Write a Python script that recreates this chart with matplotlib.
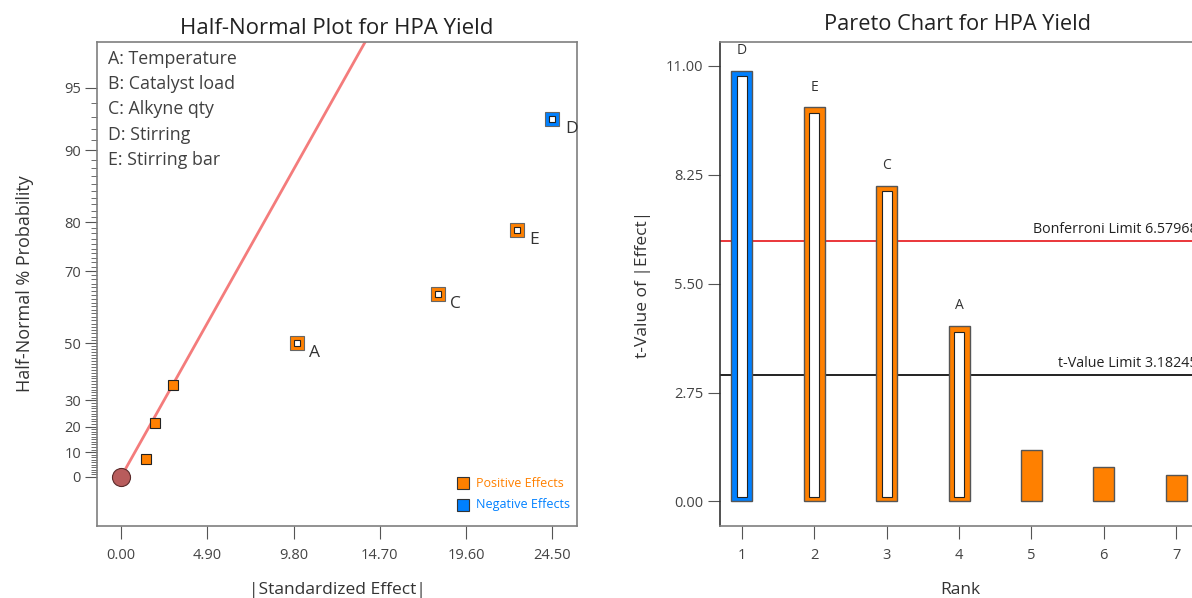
#!/usr/bin/env python3
"""Half-normal plot and Pareto chart of effects for HPA yield (two panels)."""
from statistics import NormalDist

import numpy as np
import matplotlib
matplotlib.use("Agg")
import matplotlib.pyplot as plt
from matplotlib.ticker import FixedLocator, FixedFormatter

plt.rcParams["font.family"] = ["Open Sans", "DejaVu Sans"]

# ---- data -----------------------------------------------------------------
FACTOR_NAMES = ["A: Temperature", "B: Catalyst load", "C: Alkyne qty",
                "D: Stirring", "E: Stirring bar"]

# half-normal plot: |standardized effect| vs half-normal % probability
HN_LABELS = ["", "", "", "A", "C", "E", "D"]
HN_EFFECT = [1.44, 1.93, 2.95, 9.98, 18.0, 22.5, 24.5]
HN_PROB = [7.14, 21.43, 35.71, 50.0, 64.29, 78.57, 92.86]
HN_SIGN = ["+", "+", "+", "+", "+", "+", "-"]
HN_SELECTED = [False, False, False, True, True, True, True]
FIT_X = [0.0, 14.5]
FIT_P = [0.0, 97.8]
HN_YTICKS = [0, 10, 20, 30, 50, 70, 80, 90, 95]
HN_XTICKS = [0.00, 4.90, 9.80, 14.70, 19.60, 24.50]

# pareto chart: t-value of |effect| by rank
PARETO_RANK = [1, 2, 3, 4, 5, 6, 7]
PARETO_T = [10.87, 9.95, 7.97, 4.43, 1.31, 0.87, 0.66]
PARETO_LABELS = ["D", "E", "C", "A", "", "", ""]
PARETO_SIGN = ["-", "+", "+", "+", "+", "+", "+"]
PARETO_SELECTED = [True, True, True, True, False, False, False]
BONFERRONI = 6.57968
T_LIMIT = 3.18245
PARETO_YTICKS = [0.00, 2.75, 5.50, 8.25, 11.00]

# ---- style ----------------------------------------------------------------
ORANGE = "#ff8000"
BLUE = "#0080ff"
TXT = "#333333"
TICK_TXT = "#444444"
FRAME = "#7f7f7f"
SIGN_COLOR = {"+": ORANGE, "-": BLUE}


def hn_forward(p):
    p = np.clip(np.asarray(p, dtype=float), -99.9999, 99.9999)
    nd = NormalDist()
    return np.vectorize(lambda v: nd.inv_cdf(0.5 + v / 200.0))(p)


def hn_inverse(z):
    z = np.asarray(z, dtype=float)
    nd = NormalDist()
    return np.vectorize(lambda v: 200.0 * (nd.cdf(v) - 0.5))(z)


fig = plt.figure(figsize=(11.92, 5.98), dpi=100)

# ---- half-normal plot -------------------------------------------------------
ax = fig.add_axes([0.0814, 0.1204, 0.4027, 0.8094])
ax.set_yscale("function", functions=(hn_forward, hn_inverse))
ax.set_xlim(-1.36, 25.9)
ax.set_ylim(-19.5, 97.15)

ax.plot(FIT_X, FIT_P, color="#f47c7c", lw=2, zorder=2, solid_capstyle="butt")
ax.plot([0], [0], "o", ms=13, mfc="#b85c5c", mec="#5a2a2a", mew=0.8, zorder=5)

for lab, x, p, sgn, sel in zip(HN_LABELS, HN_EFFECT, HN_PROB, HN_SIGN, HN_SELECTED):
    col = SIGN_COLOR[sgn]
    if sel:
        ax.plot([x], [p], "s", ms=9.5, mfc=col, mec="#666666", mew=0.8, zorder=4)
        ax.plot([x], [p], "s", ms=4.5, mfc="white", mec="#222222", mew=0.8, zorder=5)
        ax.annotate(lab, (x, p), textcoords="offset points", xytext=(9, -7),
                    ha="left", va="center", fontsize=12.5, color=TXT)
    else:
        ax.plot([x], [p], "s", ms=7, mfc=col, mec="#222222", mew=0.8, zorder=4)

ax.text(0.023, 0.984, "\n".join(FACTOR_NAMES), transform=ax.transAxes,
        ha="left", va="top", fontsize=12.8, color="#404040", linespacing=1.52)

# effect sign legend
for i, (name, col) in enumerate([("Positive Effects", ORANGE), ("Negative Effects", BLUE)]):
    y = 0.088 - i * 0.044
    ax.plot([0.762], [y], "s", ms=8, mfc=col, mec="#333333", mew=0.8,
            transform=ax.transAxes, clip_on=False)
    ax.text(0.79, y, name, transform=ax.transAxes, ha="left", va="center",
            fontsize=9, color=col)

ax.yaxis.set_major_locator(FixedLocator(HN_YTICKS))
ax.yaxis.set_major_formatter(FixedFormatter([str(v) for v in HN_YTICKS]))
ax.yaxis.set_minor_locator(FixedLocator([v for v in range(1, 95) if v not in HN_YTICKS]))
ax.set_xticks(HN_XTICKS)
ax.set_xticklabels([f"{v:.2f}" for v in HN_XTICKS])
ax.tick_params(axis="y", which="major", length=8.5, width=0.8, color="#555555",
               labelsize=10.5, labelcolor=TICK_TXT, pad=3)
ax.tick_params(axis="y", which="minor", length=4.5, width=0.6, color="#555555")
ax.tick_params(axis="x", which="major", length=9, width=0.8, color="#555555",
               labelsize=10.5, labelcolor=TICK_TXT, pad=6.5)
ax.tick_params(axis="x", which="minor", length=0)
for sp in ax.spines.values():
    sp.set_color(FRAME)
    sp.set_linewidth(1.2)
ax.set_xlabel("|Standardized Effect|", fontsize=12.5, color=TXT, labelpad=14)
ax.set_ylabel("Half-Normal % Probability", fontsize=13, color=TXT, labelpad=22)
ax.set_title("Half-Normal Plot for HPA Yield", fontsize=16, color="#222222", pad=6)

# ---- pareto chart -----------------------------------------------------------
bx = fig.add_axes([0.604, 0.1204, 0.4027, 0.8094])
bx.set_xlim(0.696, 7.33)
bx.set_ylim(-0.62, 11.6)

BAR_W = 0.29
INNER_W = 0.14
INNER_TOP = 0.14
INNER_BOT = 0.12
for r, t, lab, sgn, sel in zip(PARETO_RANK, PARETO_T, PARETO_LABELS,
                                PARETO_SIGN, PARETO_SELECTED):
    col = SIGN_COLOR[sgn]
    bx.bar(r, t, width=BAR_W, color=col, edgecolor="#555555", lw=1.0, zorder=3)
    if sel:
        bx.bar(r, t - INNER_TOP - INNER_BOT, width=INNER_W, bottom=INNER_BOT,
               color="white", edgecolor="#222222", lw=0.8, zorder=4)
        bx.annotate(lab, (r, t), textcoords="offset points", xytext=(0, 14.5),
                    ha="center", va="center", fontsize=10, color=TXT)

bx.axhline(BONFERRONI, color="#e8262b", lw=1.3, zorder=2)
bx.axhline(T_LIMIT, color="#111111", lw=1.3, zorder=2)
bx.text(0.995, BONFERRONI + 0.1, f"Bonferroni Limit {BONFERRONI:.5f}",
        transform=bx.get_yaxis_transform(), ha="right", va="bottom",
        fontsize=10.3, color="#222222")
bx.text(0.995, T_LIMIT + 0.1, f"t-Value Limit {T_LIMIT:.5f}",
        transform=bx.get_yaxis_transform(), ha="right", va="bottom",
        fontsize=10.3, color="#222222")

bx.set_yticks(PARETO_YTICKS)
bx.set_yticklabels([f"{v:.2f}" for v in PARETO_YTICKS])
bx.set_xticks(PARETO_RANK)
bx.tick_params(axis="y", length=9, width=0.8, color="#555555",
               labelsize=10.5, labelcolor=TICK_TXT, pad=3)
bx.tick_params(axis="x", length=9, width=0.8, color="#555555",
               labelsize=10.5, labelcolor=TICK_TXT, pad=6.5)
for sp in bx.spines.values():
    sp.set_color(FRAME)
    sp.set_linewidth(1.2)
bx.spines["left"].set_color("#333333")
bx.set_xlabel("Rank", fontsize=12.5, color=TXT, labelpad=14)
bx.set_ylabel("t-Value of |Effect|", fontsize=12.5, color=TXT, labelpad=11)
fig.text(958 / 1192, 1 - 25 / 598, "Pareto Chart for HPA Yield", ha="center",
         va="center", fontsize=15.7, color="#222222")

fig.savefig("out.png", dpi=100)
